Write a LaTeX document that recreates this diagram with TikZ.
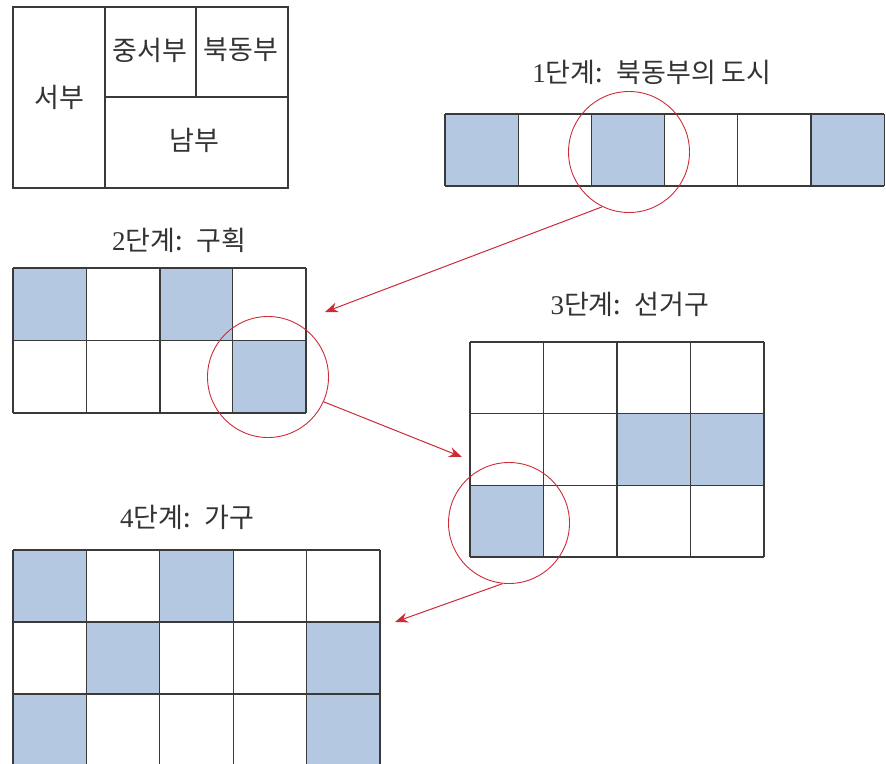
\documentclass[tikz,border=0pt]{standalone}
\usepackage{fontspec}
\setmainfont{Liberation Serif}
\newfontfamily\kr{Noto Sans CJK KR}
\usetikzlibrary{arrows.meta,positioning}
\definecolor{cellblue}{HTML}{B4C9E1}
\definecolor{ringred}{HTML}{CC2A36}
\definecolor{gridline}{HTML}{3A3A3A}

\begin{document}
\begin{tikzpicture}[x=1pt,y=-1pt,
  gridpen/.style={draw=gridline, line width=1.3pt},
  ring/.style={circle, draw=ringred, line width=0.9pt, minimum size=121pt, inner sep=0pt},
  zoomarrow/.style={draw=ringred, line width=1pt, -{Stealth[length=13pt,width=10pt]}},
  steplabel/.style={font=\fontsize{27}{30}\selectfont, text=black!80, inner sep=0pt},
  regionlabel/.style={font=\kr\fontsize{27}{30}\selectfont, text=black!80, inner sep=0pt}]
\useasboundingbox (0,0) rectangle (886,763);

% regions
\draw[gridpen] (13,7) rectangle (288,188);
\draw[gridpen] (105,7) -- (105,188);
\draw[gridpen] (105,97) -- (288,97);
\draw[gridpen] (196,7) -- (196,97);
\node[regionlabel] (west) at (59,97) {서부};
\node[regionlabel] (midwest) at (150,50) {중서부};
\node[regionlabel] (northeast) at (241,50) {북동부};
\node[regionlabel] (south) at (194,140) {남부};

% step 1
\node[steplabel] (lab1) at (652,72) {1{\kr 단계:\enspace 북동부의 도시}};
\begin{scope}[shift={(445,114)}, x=73.2pt, y=-72pt]
  \foreach \c in {0,2,5} \fill[cellblue] (\c,0) rectangle (\c+1,1);
  \foreach \i in {0,...,6} \draw[gridpen] (\i,0) -- (\i,1);
  \foreach \j in {0,1} \draw[gridpen] (0,\j) -- (6,\j);
\end{scope}
\node[ring] (ring1) at (629,152) {};

% step 2
\node[steplabel] (lab2) at (179,240) {2{\kr 단계:\enspace 구획}};
\begin{scope}[shift={(13,268)}, x=73.25pt, y=-72.5pt]
  \foreach \c/\r in {0/0,2/0,3/1} \fill[cellblue] (\c,\r) rectangle (\c+1,\r+1);
  \foreach \i in {0,...,4} \draw[gridpen] (\i,0) -- (\i,2);
  \foreach \j in {0,1,2} \draw[gridpen] (0,\j) -- (4,\j);
  \draw[gridpen, line width=2pt] (2,0) -- (2,2);
\end{scope}
\node[ring] (ring2) at (268,377) {};

% step 3
\node[steplabel] (lab3) at (630,304) {3{\kr 단계:\enspace 선거구}};
\begin{scope}[shift={(470,342)}, x=73.5pt, y=-71.7pt]
  \foreach \c/\r in {2/1,3/1,0/2} \fill[cellblue] (\c,\r) rectangle (\c+1,\r+1);
  \foreach \i in {0,...,4} \draw[gridpen] (\i,0) -- (\i,3);
  \foreach \j in {0,...,3} \draw[gridpen] (0,\j) -- (4,\j);
  \draw[gridpen, line width=2pt] (2,0) -- (2,1);
\end{scope}
\node[ring] (ring3) at (509,523) {};

% step 4
\node[steplabel] (lab4) at (187,517) {4{\kr 단계:\enspace 가구}};
\begin{scope}[shift={(13,550)}, x=73.4pt, y=-72pt]
  \foreach \c/\r in {0/0,2/0,1/1,4/1,0/2,4/2} \fill[cellblue] (\c,\r) rectangle (\c+1,\r+1);
  \foreach \i in {0,...,5} \draw[gridpen] (\i,0) -- (\i,3);
  \foreach \j in {0,1,2} \draw[gridpen] (0,\j) -- (5,\j);
\end{scope}

% zoom arrows
\coordinate (tip1) at (325,312);
\coordinate (tip2) at (462,457);
\coordinate (tip3) at (395,622);
\draw[zoomarrow] (ring1.244) -- (tip1);
\draw[zoomarrow] (ring2.336) -- (tip2);
\draw[zoomarrow] (ring3.264) -- (tip3);
\end{tikzpicture}
\end{document}
